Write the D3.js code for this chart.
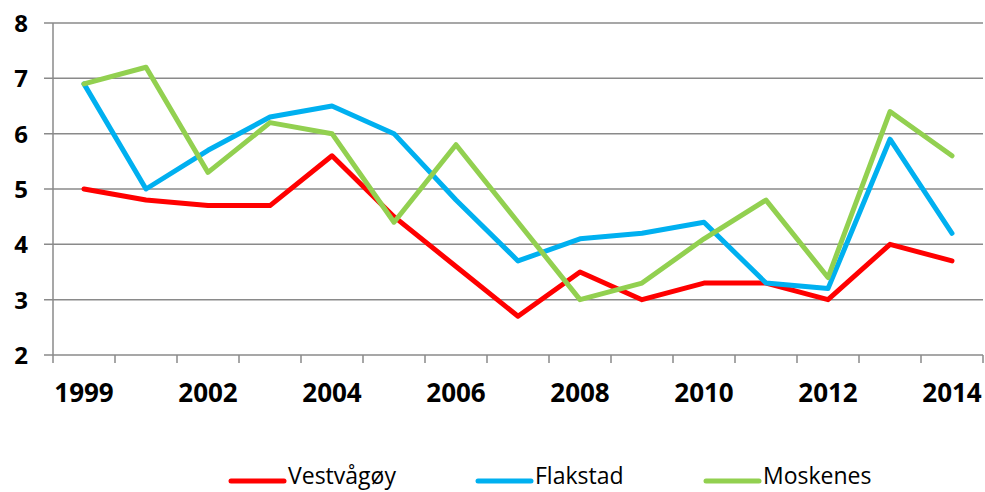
<!DOCTYPE html>
<html>
<head>
<meta charset="utf-8">
<script src="https://cdn.jsdelivr.net/npm/d3@7"></script>
<style>
  html, body { margin: 0; padding: 0; background: #fff; }
  svg { display: block; }
</style>
</head>
<body>
<svg id="chart" width="985" height="492"></svg>
<script>
// ── Data ──────────────────────────────────────────────────────────────────────
const years      = ['1999', '2000', '2002', '2003', '2004', '2005', '2006', '2007',
                    '2008', '2009', '2010', '2011', '2012', '2013', '2014']
const vestvagoy  = [5.0, 4.8, 4.7, 4.7, 5.6, 4.5, 3.6, 2.7, 3.5, 3.0, 3.3, 3.3, 3.0, 4.0, 3.7]
const flakstad   = [6.9, 5.0, 5.7, 6.3, 6.5, 6.0, 4.8, 3.7, 4.1, 4.2, 4.4, 3.3, 3.2, 5.9, 4.2]
const moskenes   = [6.9, 7.2, 5.3, 6.2, 6.0, 4.4, 5.8, 4.4, 3.0, 3.3, 4.1, 4.8, 3.4, 6.4, 5.6]
const yTicks     = [2, 3, 4, 5, 6, 7, 8]

const series = [
  { name: 'Vestvågøy', values: vestvagoy, color: '#FF0000' },
  { name: 'Flakstad',  values: flakstad,  color: '#00B0F0' },
  { name: 'Moskenes',  values: moskenes,  color: '#92D050' },
]

// ── Layout ────────────────────────────────────────────────────────────────────
const svg = d3.select('#chart')
const M = { left: 53, right: 983, top: 23, bottom: 355 }
const gridColor = '#8a8a8a'

const x = d3.scaleBand().domain(years).range([M.left, M.right])
const y = d3.scaleLinear().domain([2, 8]).range([M.bottom, M.top])
const cx = d => x(d) + x.bandwidth() / 2

// ── Grid + axes ───────────────────────────────────────────────────────────────
svg.append('g')
  .selectAll('line')
  .data(yTicks)
  .join('line')
  .attr('x1', M.left - 9).attr('x2', M.right)
  .attr('y1', d => y(d)).attr('y2', d => y(d))
  .attr('stroke', gridColor).attr('stroke-width', 1.5)

svg.append('line')
  .attr('x1', M.left).attr('x2', M.left)
  .attr('y1', M.top).attr('y2', M.bottom)
  .attr('stroke', gridColor).attr('stroke-width', 1.5)

const tickXs = years.map(d => x(d)).concat([x.range()[1]])
svg.append('g')
  .selectAll('line')
  .data(tickXs)
  .join('line')
  .attr('x1', d => d).attr('x2', d => d)
  .attr('y1', M.bottom).attr('y2', M.bottom + 8)
  .attr('stroke', gridColor).attr('stroke-width', 1.5)

svg.append('g')
  .selectAll('text')
  .data(yTicks)
  .join('text')
  .attr('x', 28)
  .attr('y', d => y(d) + 9)
  .attr('text-anchor', 'end')
  .attr('font-family', '"Open Sans", sans-serif')
  .attr('font-weight', 700)
  .attr('font-size', 24)
  .attr('fill', '#000')
  .text(d => d)

svg.append('g')
  .selectAll('text')
  .data(years.filter((d, i) => i % 2 === 0))
  .join('text')
  .attr('x', d => cx(d))
  .attr('y', 402)
  .attr('text-anchor', 'middle')
  .attr('font-family', '"Open Sans", sans-serif')
  .attr('font-weight', 700)
  .attr('font-size', 26)
  .attr('fill', '#000')
  .text(d => d)

// ── Lines ─────────────────────────────────────────────────────────────────────
const line = d3.line()
  .x((d, i) => cx(years[i]))
  .y(d => y(d))

svg.append('g')
  .selectAll('path')
  .data(series)
  .join('path')
  .attr('d', d => line(d.values))
  .attr('fill', 'none')
  .attr('stroke', d => d.color)
  .attr('stroke-width', 5)
  .attr('stroke-linejoin', 'round')
  .attr('stroke-linecap', 'round')

// ── Legend ────────────────────────────────────────────────────────────────────
const legendX = [231, 478, 706]
const legend = svg.append('g')
  .selectAll('g')
  .data(series)
  .join('g')
  .attr('transform', (d, i) => `translate(${legendX[i]},481)`)

legend.append('line')
  .attr('x1', 0).attr('x2', 53)
  .attr('stroke', d => d.color)
  .attr('stroke-width', 5)
  .attr('stroke-linecap', 'round')

legend.append('text')
  .attr('x', 57)
  .attr('y', 3)
  .attr('font-family', '"Liberation Sans Narrow", "Open Sans", sans-serif')
  .attr('font-size', 23)
  .attr('fill', '#000')
  .text(d => d.name)
</script>
</body>
</html>
